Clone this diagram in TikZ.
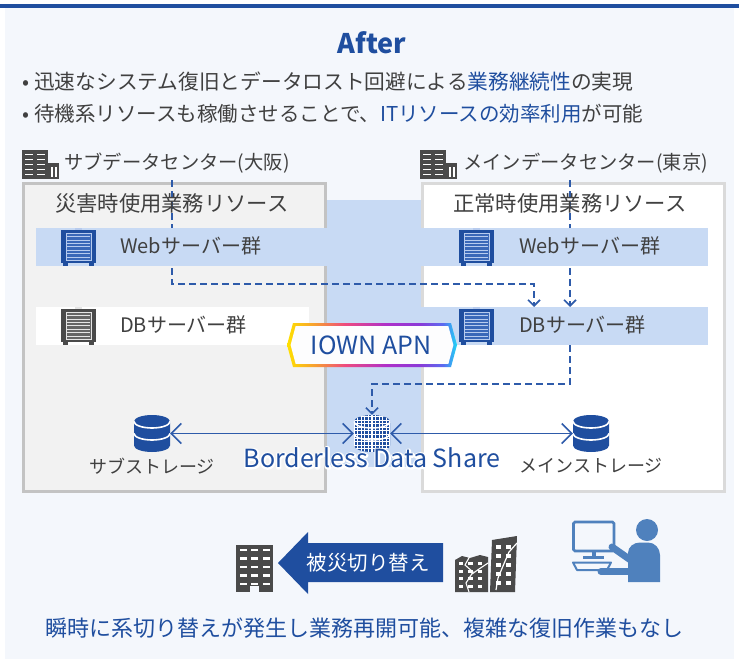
\documentclass[tikz,border=0pt]{standalone}
\usepackage{fontspec}
\setmainfont{Noto Sans CJK JP}
\usetikzlibrary{arrows.meta}

\definecolor{navy}{HTML}{1F4E9F}
\definecolor{linkblue}{HTML}{2E5BAA}
\definecolor{bandblue}{HTML}{C8DAF4}
\definecolor{pagebg}{HTML}{F4F7FC}
\definecolor{ink}{HTML}{404040}
\definecolor{icongray}{HTML}{4A4A4A}
\definecolor{subfill}{HTML}{F2F2F2}
\definecolor{subline}{HTML}{C3C3C3}
\definecolor{mainline}{HTML}{DADADA}
\definecolor{person}{HTML}{4F81BD}
\definecolor{srvinner}{HTML}{3A68B8}
\definecolor{srvline}{HTML}{B7CBEE}
\definecolor{iownA}{HTML}{FFE100}
\definecolor{iownB}{HTML}{F7A030}
\definecolor{iownC}{HTML}{EE4B7E}
\definecolor{iownD}{HTML}{B030C8}
\definecolor{iownE}{HTML}{8A3AD8}
\definecolor{iownF}{HTML}{5A6CF0}
\definecolor{iownG}{HTML}{1ED8F5}

\pgfdeclarehorizontalshading{iownring}{100bp}{color(0bp)=(iownA); color(25bp)=(iownA); color(33bp)=(iownB); color(42bp)=(iownC); color(54bp)=(iownD); color(64bp)=(iownE); color(71bp)=(iownF); color(75bp)=(iownG); color(100bp)=(iownG)}

\newcommand\FS[1]{\fontsize{#1}{#1}\selectfont}

% text with a white outline glow behind it
\newcommand\HaloText[1]{\leavevmode\rlap{\special{pdf:code q 1 1 1 RG 3.4 w 1 J 1 j 2 Tr}\textcolor{white}{#1}\special{pdf:code 0 Tr Q}}#1}

% rack server: #1,#2 top-left corner, #3 body colour, #4 inner colour, #5 stripe colour
\newcommand\ServerIcon[5]{%
  \begin{scope}[shift={(#1,#2)}]
    \fill[#3] (0,2) rectangle (35,35);
    \fill[#3] (2,35) rectangle (7,38);
    \fill[#3] (28,35) rectangle (33,38);
    \fill[#5] (14,0) rectangle (21,2);
    \fill[#4] (5,5) rectangle (30,32);
    \draw[#5, line width=0.7] (5,5) rectangle (30,32);
    \foreach \k in {0,...,6} \draw[#5, line width=0.8] (6,8.5+3.4*\k) -- (29,8.5+3.4*\k);
  \end{scope}}

% data-centre building: #1,#2 top-left corner
\newcommand\DCIcon[2]{%
  \begin{scope}[shift={(#1,#2)}]
    \fill[icongray] (0,0) rectangle (26,29);
    \fill[icongray] (26,13) rectangle (37,29);
    \foreach \r in {0,...,4} {
      \fill[white] (3,3.5+5*\r) rectangle (11,5+5*\r);
      \fill[white] (15,3.5+5*\r) rectangle (23,5+5*\r);
    }
    \fill[white] (29,17) rectangle (30.5,27);
    \fill[white] (33,17) rectangle (34.5,27);
  \end{scope}}

% storage cylinder outline: #1 centre x, #2 top y
\newcommand\DiskPath[2]{(#1-18,#2+6.5) -- (#1-18,#2+30.5) arc[start angle=180,end angle=0,x radius=18,y radius=6.5] -- (#1+18,#2+6.5) arc[start angle=0,end angle=-180,x radius=18,y radius=6.5] -- cycle}

\newcommand\DiskIcon[2]{%
  \fill[navy] \DiskPath{#1}{#2};
  \draw[white, line width=1.6] (#1-18,#2+6.5) arc[start angle=180,end angle=0,x radius=18,y radius=6.5];
  \draw[white, line width=1.6] (#1-18,#2+18.5) arc[start angle=180,end angle=0,x radius=18,y radius=6.5];}

\newcommand\MeshDiskIcon[2]{%
  \fill[navy] \DiskPath{#1}{#2};
  \begin{scope}
    \clip \DiskPath{#1}{#2};
    \foreach \k in {0,...,10} \draw[white, line width=1.1] (#1-18+3.6*\k,#2) -- ++(0,37);
    \foreach \k in {0,...,10} \draw[white, line width=1.1] (#1-18,#2+1.5+3.6*\k) -- ++(36,0);
  \end{scope}
  \draw[white, line width=1.4] (#1-18,#2+6.5) arc[start angle=180,end angle=0,x radius=18,y radius=6.5];
  \draw[white, line width=1.4] (#1-18,#2+18.5) arc[start angle=180,end angle=0,x radius=18,y radius=6.5];}

\tikzset{
  txt/.style={inner sep=0, text=ink},
  hl/.style={inner sep=0, text=navy},
  dashlink/.style={linkblue, line width=1.6, dash pattern=on 7pt off 4pt,
    -{Straight Barb[length=6pt,width=12pt,line width=1.6pt]}},
  sharelink/.style={linkblue, line width=1.5,
    {Straight Barb[length=10pt,width=20pt,line width=1.5pt]}-{Straight Barb[length=10pt,width=20pt,line width=1.5pt]}},
  slot/.style={inner sep=0, minimum width=36, minimum height=37},
}

\begin{document}
\begin{tikzpicture}[x=1pt,y=-1pt]
\useasboundingbox (0,0) rectangle (739,664);
\fill[white] (0,0) rectangle (739,664);
\fill[pagebg] (5,7) rectangle (734,659);
\fill[navy] (0,4) rectangle (739,7.5);

% heading and bullets
\node[inner sep=0, text=navy, font=\FS{27}\bfseries] (title) at (372,43) {After};
\node[txt, anchor=west, font=\FS{20.7}] (pt1) at (22,82)
  {•\hspace{5pt}迅速なシステム復旧とデータロスト回避による\textcolor{navy}{業務継続性}の実現};
\node[txt, anchor=west, font=\FS{20.5}] (pt2) at (22,114)
  {•\hspace{5pt}待機系リソースも稼働させることで、\textcolor{navy}{ITリソースの効率利用}が可能};

% data-centre headings
\DCIcon{22}{150}
\node[txt, anchor=west, font=\FS{19.3}] (subdc) at (64,163) {サブデータセンター(大阪)};
\DCIcon{420}{150}
\node[txt, anchor=west, font=\FS{19.3}] (maindc) at (463,163) {メインデータセンター(東京)};

% network band between the centres
\fill[bandblue] (323,200) rectangle (421,467);

% centre frames
\node[draw=subline, fill=subfill, line width=3, anchor=north west, minimum width=302, minimum height=308, inner sep=0] (subbox) at (21.5,181.5) {};
\node[draw=mainline, fill=white, line width=3, anchor=north west, minimum width=302, minimum height=308, inner sep=0] (mainbox) at (420.5,181.5) {};

% dashed data paths
\coordinate (a1) at (172,180);
\coordinate (a2) at (172,284);
\coordinate (a3) at (534,284);
\coordinate (b1) at (570,180);
\coordinate (c2) at (570,384);
\coordinate (c3) at (372,384);

% server rows
\node[fill=bandblue, anchor=north west, minimum width=672, minimum height=38, inner sep=0] (webband) at (36,228) {};
\node[fill=white, anchor=north west, minimum width=273, minimum height=38, inner sep=0] (subdbband) at (36,307) {};
\node[fill=bandblue, anchor=north west, minimum width=289, minimum height=38, inner sep=0] (maindbband) at (419,307) {};

\node[slot] (share) at (372,433.5) {};
\node[slot] (subst) at (152,433.5) {};
\node[slot] (mainst) at (591,433.5) {};

\draw[dashlink] (a1) -- (a2) -- (a3) -- (a3 |- maindbband.north);
\draw[dashlink] (b1) -- (b1 |- maindbband.north);
\draw[dashlink] (b1 |- maindbband.south) -- (c2) -- (c3) -- (share.north);
% re-draw the rows so the paths run underneath them
\fill[bandblue] (webband.north west) rectangle (webband.south east);
\fill[white] (subdbband.north west) rectangle (subdbband.south east);
\fill[bandblue] (maindbband.north west) rectangle (maindbband.south east);

\node[txt, anchor=west, font=\FS{21.3}] (subres) at (55,203) {災害時使用業務リソース};
\node[txt, anchor=west, font=\FS{21.3}] (mainres) at (453,203) {正常時使用業務リソース};

\ServerIcon{61}{228}{navy}{srvinner}{srvline}
\ServerIcon{61}{307}{icongray}{icongray!85!white}{white!80!gray}
\ServerIcon{459}{228}{navy}{srvinner}{srvline}
\ServerIcon{459}{307}{navy}{srvinner}{srvline}

\node[txt, anchor=west, font=\FS{20}] (subweb) at (120,246) {Webサーバー群};
\node[txt, anchor=west, font=\FS{20}] (subdb) at (120,325) {DBサーバー群};
\node[txt, anchor=west, font=\FS{20}] (mainweb) at (519,246) {Webサーバー群};
\node[txt, anchor=west, font=\FS{20}] (maindb) at (519,325) {DBサーバー群};

% IOWN APN badge with gradient rim
\shade[shading=iownring] (287,345) -- (293,323) -- (451,323) -- (457,345) -- (451,367) -- (293,367) -- cycle;
\fill[white!96!bandblue] (290.6,345) -- (295.6,326.2) -- (448.4,326.2) -- (453.4,345) -- (448.4,363.8) -- (295.6,363.8) -- cycle;
\node[hl, font=\FS{25}] (iown) at (371,345.5) {IOWN APN};

% storage
\DiskIcon{152}{415}
\DiskIcon{591}{415}
\MeshDiskIcon{372}{415}
\draw[sharelink] (subst.east) -- (share.west);
\draw[sharelink] (share.east) -- (mainst.west);

\node[txt, font=\FS{18}] (substlabel) at (152,466) {サブストレージ};
\node[txt, font=\FS{18}] (mainstlabel) at (591,466) {メインストレージ};

\node[hl, font=\FS{25}] (bds) at (372,458) {\HaloText{Borderless Data Share}};

% fail-over scene: standby building
\fill[icongray] (236,545) rectangle (273,592);
\foreach \r in {0,...,4} \foreach \c in {0,1,2}
  \fill[white] (239.5+11.5*\c,548.5+8.5*\r) rectangle (246.5+11.5*\c,551+8.5*\r);
\fill[pagebg] (250,586) rectangle (259,592);

% switch-over arrow
\fill[navy] (278,563) -- (308,532) -- (308,543) -- (443,543) -- (443,582) -- (308,582) -- (308,594) -- cycle;
\node[inner sep=0, text=white, font=\FS{20.5}] (switch) at (368,563) {被災切り替え};

% damaged buildings
\fill[icongray] (455,560) -- (462,556) -- (470,558) -- (480,555) -- (488,557) -- (488,592) -- (455,592) -- cycle;
\foreach \r in {0,...,3} \foreach \c in {0,1,2}
  \fill[white] (458.5+9.5*\c,562+7.5*\r) rectangle (463+9.5*\c,565+7.5*\r);
\draw[white, line width=1.1] (470,556) -- (465,565) -- (473,572) -- (466,583) -- (469,592);
\draw[white, line width=1.1] (488,563) -- (479,569) -- (472,574);
\fill[icongray] (490,592) -- (492,540) -- (517,536) -- (515,592) -- cycle;
\foreach \r in {0,...,4} \foreach \c in {0,1}
  \fill[white] (495.5+10*\c,545+9*\r) rectangle (500.5+10*\c,548.5+9*\r);
\draw[white, line width=1.2] (517,543) -- (509,552) -- (503,566) -- (498,578) -- (496,590);

% operator at a workstation
\draw[person, line width=2.6, rounded corners=1.5] (573.5,522) rectangle (614,551);
\fill[person] (591.5,551) rectangle (595.5,556);
\fill[person] (583,555.5) rectangle (604,558.5);
\draw[person, line width=2, line join=round] (573,562.5) -- (611,562.5) -- (607,570) -- (577,570) -- cycle;
\fill[person] (647,530) circle (11);
\fill[person] (628,582) -- (628,553) to[out=90,in=180] (640,542.5) -- (648,542.5) to[out=0,in=90] (660,555) -- (660,582) -- cycle;
\draw[person, line width=7, line cap=round] (612,547) -- (632,561);
\draw[person, line width=7, line cap=round] (601,571.5) -- (632,571.5);

\node[hl, anchor=west, font=\FS{22}] (summary) at (45,628) {瞬時に系切り替えが発生し業務再開可能、複雑な復旧作業もなし};
\end{tikzpicture}
\end{document}
